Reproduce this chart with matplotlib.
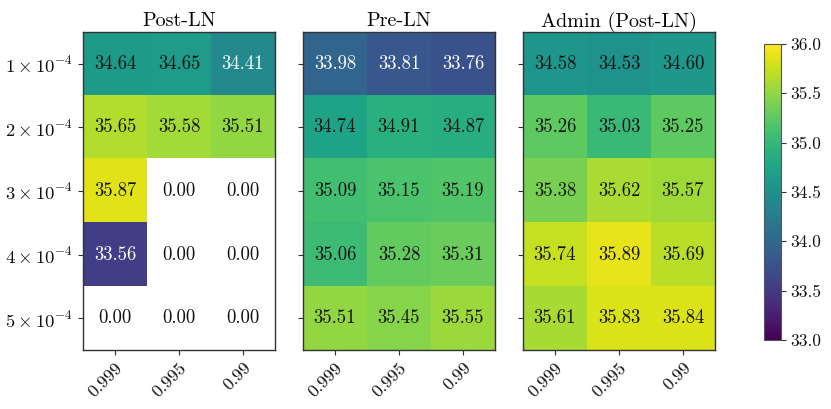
import numpy as np
import matplotlib
matplotlib.use("Agg")
import matplotlib.pyplot as plt

plt.rcParams['font.family'] = ['cmr10', 'DejaVu Serif']
plt.rcParams['mathtext.fontset'] = 'cm'
plt.rcParams['axes.unicode_minus'] = False
plt.rcParams['axes.formatter.use_mathtext'] = True

titles = ["Post-LN", "Pre-LN", "Admin (Post-LN)"]
row_labels = [r"$1\times10^{-4}$", r"$2\times10^{-4}$", r"$3\times10^{-4}$",
              r"$4\times10^{-4}$", r"$5\times10^{-4}$"]
col_labels = ["0.999", "0.995", "0.99"]

post_ln = [[34.64, 34.65, 34.41],
           [35.65, 35.58, 35.51],
           [35.87, 0.00, 0.00],
           [33.56, 0.00, 0.00],
           [0.00, 0.00, 0.00]]
pre_ln = [[33.98, 33.81, 33.76],
          [34.74, 34.91, 34.87],
          [35.09, 35.15, 35.19],
          [35.06, 35.28, 35.31],
          [35.51, 35.45, 35.55]]
admin = [[34.58, 34.53, 34.60],
         [35.26, 35.03, 35.25],
         [35.38, 35.62, 35.57],
         [35.74, 35.89, 35.69],
         [35.61, 35.83, 35.84]]

vmin, vmax = 33.0, 36.0
cmap = plt.get_cmap('viridis').copy()
cmap.set_bad('white')

fig = plt.figure(figsize=(8.31, 4.09), dpi=100)
lefts = [83 / 831, 303 / 831, 523 / 831]
bottom = 59 / 409
w = 192 / 831
h = 318 / 409

im = None
for i, (data, title) in enumerate(zip([post_ln, pre_ln, admin], titles)):
    ax = fig.add_axes([lefts[i], bottom, w, h])
    arr = np.array(data)
    masked = np.ma.masked_where(arr == 0, arr)
    im = ax.imshow(masked, cmap=cmap, vmin=vmin, vmax=vmax, aspect='auto',
                   interpolation='nearest')
    for r in range(arr.shape[0]):
        for c in range(arr.shape[1]):
            v = arr[r, c]
            color = 'white' if (v != 0 and v < 34.5) else '#111111'
            ax.text(c, r, f"{v:.2f}", ha='center', va='center', color=color,
                    fontsize=13.5)
    ax.set_title(title, fontsize=14.5, pad=4)
    ax.set_xticks(range(len(col_labels)))
    ax.set_xticklabels(col_labels, rotation=45, ha='right',
                       rotation_mode='anchor', fontsize=13)
    ax.set_yticks(range(len(row_labels)))
    if i == 0:
        ax.set_yticklabels(row_labels, fontsize=13.4)
    else:
        ax.set_yticklabels([])
    ax.tick_params(colors='#333333', labelcolor='#111111', length=3.5)
    for sp in ax.spines.values():
        sp.set_color('#333333')
        sp.set_linewidth(1.0)

cax = fig.add_axes([764 / 831, 69 / 409, 17 / 831, 296 / 409])
cb = fig.colorbar(im, cax=cax, ticks=np.arange(33.0, 36.01, 0.5))
cb.ax.set_yticklabels([f"{t:.1f}" for t in np.arange(33.0, 36.01, 0.5)], fontsize=12.5)
cb.ax.tick_params(colors='#333333', labelcolor='#111111')
cb.outline.set_edgecolor('#555555')

fig.savefig("out.png", dpi=100)
